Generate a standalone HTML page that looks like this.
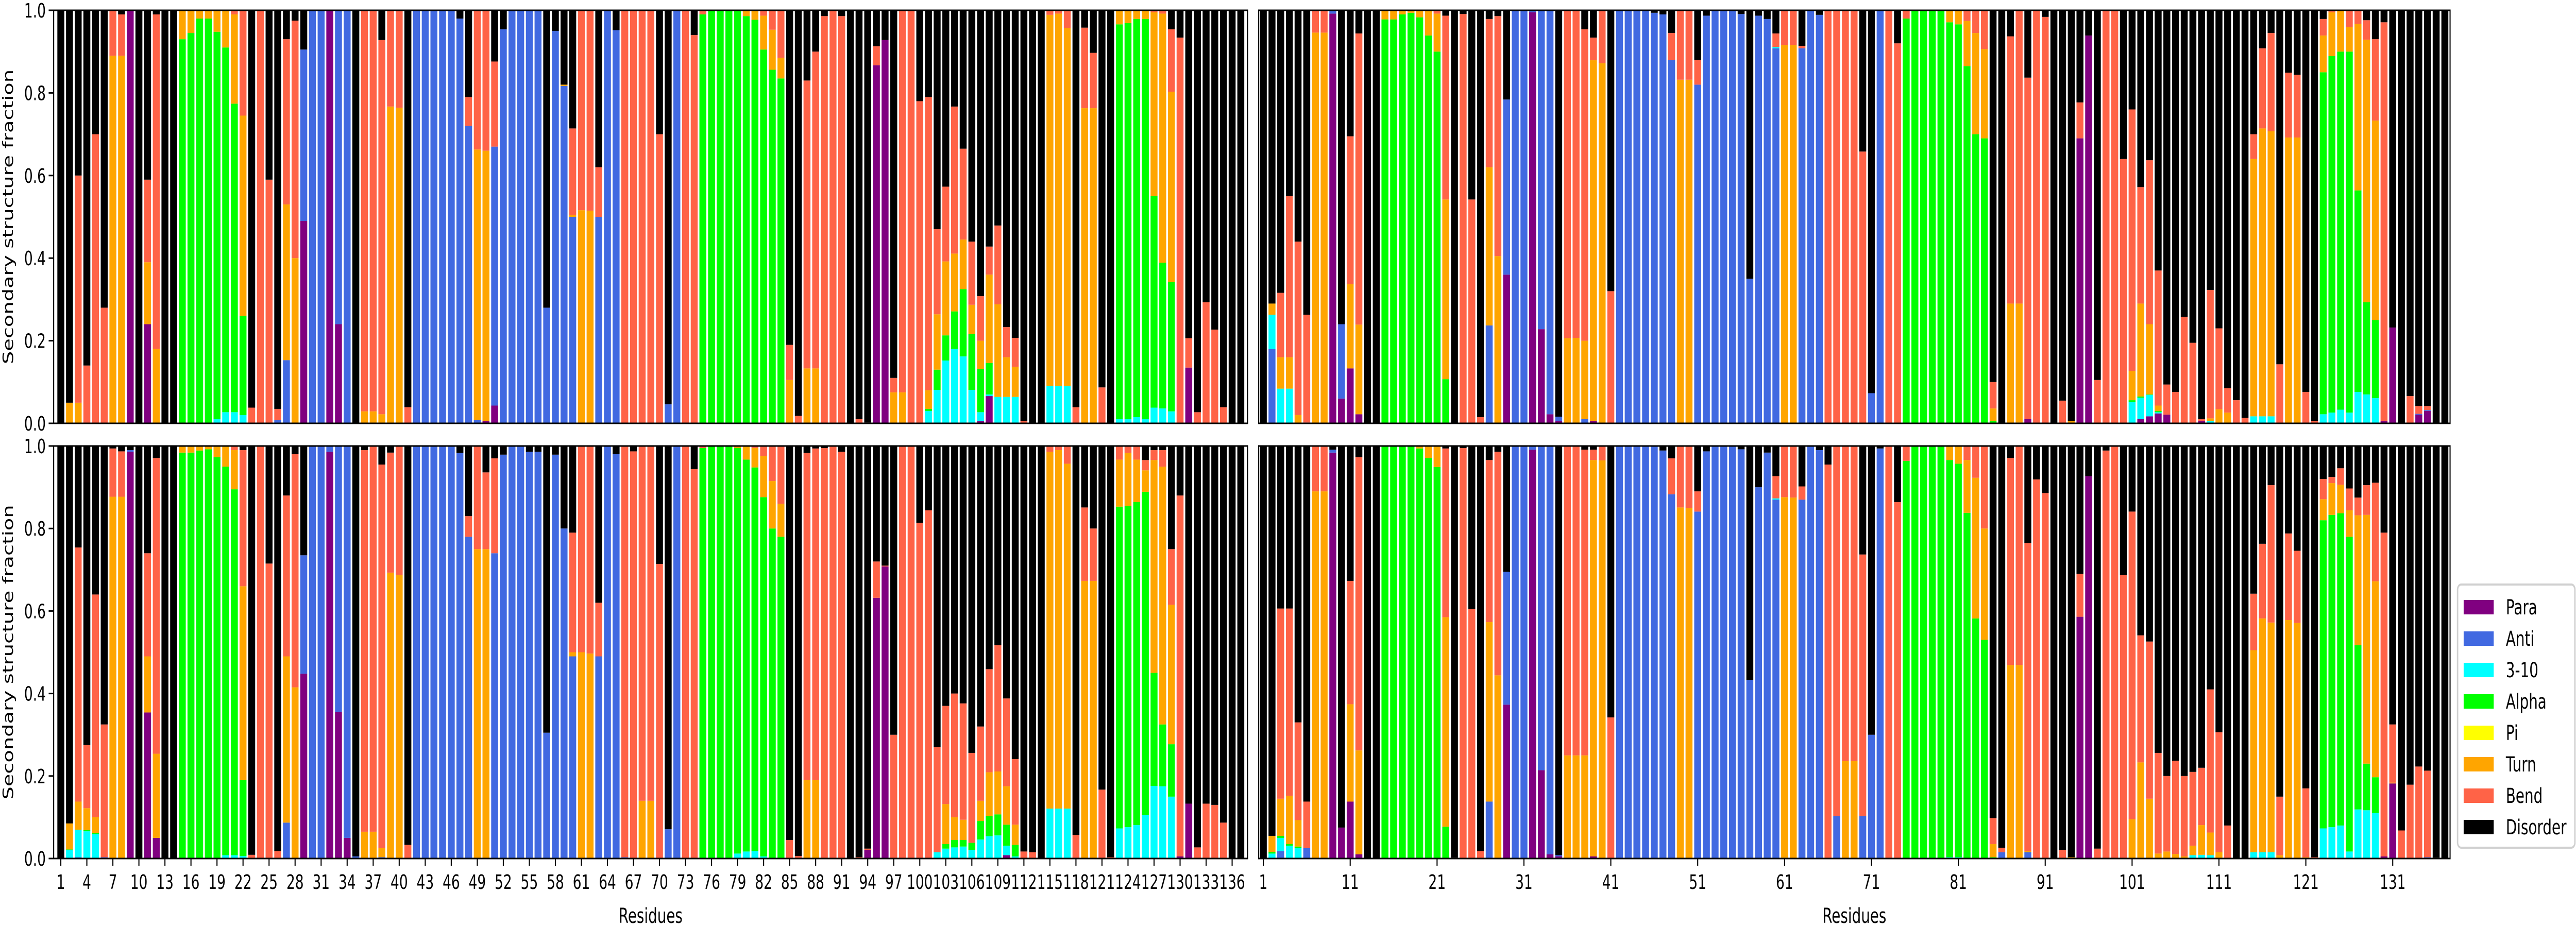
<!DOCTYPE html>
<html>
<head>
<meta charset="utf-8">
<style>
html,body{margin:0;padding:0;background:#fff;width:100%;height:100%;overflow:hidden;}
svg{display:block;width:100vw;height:100vh;}
text{font-family:"DejaVu Sans","Liberation Sans",sans-serif;}
</style>
</head>
<body>
<svg id="chart" viewBox="0 0 7200 1800" preserveAspectRatio="none" xmlns="http://www.w3.org/2000/svg">
  <g id="plots"></g>
  <g id="legend">
    <rect x="6869" y="1135" width="328" height="511" rx="10" fill="#fff" stroke="#d0d0d0" stroke-width="4"/>
  </g>
</svg>
<script>
// ---------- data ----------
const seriesNames = ["Para","Anti","3-10","Alpha","Pi","Turn","Bend","Disorder"];
const seriesColors = ["#800080","#4169e1","#00ffff","#00ff00","#ffff00","#ffa500","#ff6347","#000000"];
const leftTickLabels = [1,4,7,10,13,16,19,22,25,28,31,34,37,40,43,46,49,52,55,58,61,64,67,70,73,76,79,82,85,88,91,94,97,100,103,106,109,112,115,118,121,124,127,130,133,136];
const rightTickLabels = [1,11,21,31,41,51,61,71,81,91,101,111,121,131];
const yTickLabels = ["0.0","0.2","0.4","0.6","0.8","1.0"];
const yTickValues = [0,0.2,0.4,0.6,0.8,1.0];

const piAll = [
0,0,0,0,0,0,0,0,0,0, 0,0,0,0,0,0,0,0,0,0, 0,0,0,0,0,0,0,0,0,0, 0,0,0,0,0,0,0,0,0,0,
0,0,0,0,0,0,0,0,0,0, 0,0,0,0,0,0,0,0,0,0, 0,0,0,0,0,0,0,0,0,0, 0,0,0,0,0,0,0,0,0,0,
0,0,0,0,0,0,0,0,0,0, 0,0,0,0,0,0,0,0,0,0, 0,0,0,0,0,0,0,0,0,0, 0,0,0,0,0,0,0,0,0,0,
0,0,0,0,0,0,0,0,0,0, 0,0,0,0,0,0,0];

// ----- top-left -----
const tlPara = [
0,0,0,0,0,0,0,0,1,0, .24,0,0,0,0,0,0,0,0,0, 0,0,0,0,0,0,0,0,.49,0, 0,1,.24,0,0,0,0,0,0,0,
0,0,0,0,0,0,0,0,0,.005, .043,0,0,0,0,0,0,0,0,0, 0,0,0,0,0,0,0,0,0,0, 0,0,0,0,0,0,0,0,0,0,
0,0,0,0,0,0,0,0,0,0, 0,0,0,0,.867,.928,0,0,0,0, 0,0,0,0,0,0,.005,.066,0,0, 0,0,0,0,0,0,0,0,0,0,
0,0,0,0,0,0,0,0,0,0, .135,0,0,0,0,0,0];
const tlAnti = [
0,0,0,0,0,0,0,0,0,0, 0,0,0,0,0,0,0,0,0,0, 0,0,0,0,0,.008,.153,0,.415,1, 1,0,.76,1,0,0,0,0,0,0,
0,1,1,1,1,1,.98,.72,.008,0, .627,.954,1,1,1,.998,.28,.95,.817,.5, 0,0,.5,1,.952,0,0,0,0,0, .046,1,0,0,0,0,0,0,0,0,
0,0,0,0,0,0,0,0,0,0, 0,0,0,0,0,0,0,0,0,0, 0,0,0,0,0,0,0,0,0,0, 0,0,0,0,0,0,0,0,0,0,
0,0,0,0,0,0,0,0,0,0, 0,0,0,0,0,0,0];
const tl310 = [
0,0,0,0,0,0,0,0,0,0, 0,0,0,0,0,0,0,0,.01,.027, .027,.02,0,0,0,0,0,0,0,0, 0,0,0,0,0,0,0,0,0,0,
0,0,0,0,0,0,0,0,0,0, 0,0,0,0,0,0,0,0,0,0, 0,0,0,0,0,0,0,0,0,0, 0,0,0,0,0,0,0,0,0,0,
0,0,0,0,0,0,0,0,0,0, 0,0,0,0,0,0,0,0,0,0, .03,.081,.152,.18,.162,.081,.022,.004,.064,.064, .064,0,0,0,.091,.091,.091,0,0,0,
0,0,.01,.01,.015,.01,.038,.036,.029,0, 0,0,0,0,0,0,0];
const tlAlpha = [
0,0,0,0,0,0,0,0,0,0, 0,0,0,0,.93,.945,.98,.98,.938,.883, .747,.24,0,0,0,0,0,0,0,0, 0,0,0,0,0,0,0,0,0,0,
0,0,0,0,0,0,0,0,0,0, 0,0,0,0,0,0,0,0,0,0, 0,0,0,0,0,0,0,0,0,0, 0,0,0,0,.99,1,1,1,1,.986,
.977,.905,.856,.835,0,0,0,0,0,0, 0,0,0,0,0,0,0,0,0,0, .005,.049,.061,.091,.163,.135,.105,.076,0,0, 0,0,0,0,0,0,0,0,0,0,
0,0,.956,.959,.964,.969,.512,.353,.313,0, 0,0,0,0,0,0,0];
const tlTurn = [
0,.05,.05,0,0,0,.89,.89,0,0, .15,.18,0,0,.07,.055,.02,.02,.052,.09, .216,.485,0,0,0,0,.377,.4,0,0, 0,0,0,0,0,.029,.029,.022,.767,.764,
0,0,0,0,0,0,0,0,.655,.655, 0,0,0,0,0,0,0,0,.003,.005, .516,.515,0,0,0,0,0,0,0,0, 0,0,0,0,0,0,0,0,0,.014,
.023,.082,.097,.05,.105,0,.133,.133,0,0, 0,0,0,0,0,0,.075,.075,0,0, .045,.134,.179,.14,.12,.071,.068,.214,.224,.096, .073,0,0,0,.898,.901,.866,0,.763,.763,
0,0,.034,.031,.021,.021,.445,.603,.461,0, 0,0,0,0,0,0,0];
const tlBend = [
0,0,.55,.14,.7,.28,.11,.1,0,0, .2,.81,0,0,0,0,0,0,0,0, .01,.255,.038,1,.59,.027,.4,.575,0,0, 0,0,0,0,0,.971,.971,.906,.233,.236,
.039,0,0,0,0,0,0,.07,.337,.34, .206,0,0,0,0,0,0,0,0,.209, .484,.485,.12,0,0,1,1,1,1,.7, 0,0,1,.94,.01,0,0,0,0,0,
0,.013,.047,.115,.085,.018,.697,.767,.986,1, .986,0,.01,.002,.046,0,.035,.925,1,.78, .71,.206,.181,.356,.22,.153,.108,.068,.191,.073, .07,.005,0,0,.011,.008,.043,.039,.195,.134,
.087,0,0,0,0,0,.005,.008,.151,.934, .071,.027,.293,.227,.039,0,0];

// ----- bottom-left -----
const blPara = [
0,0,0,0,0,0,0,0,.986,0, .354,.05,0,0,0,0,0,0,0,0, 0,0,0,0,0,0,0,0,.448,0, 0,.986,.355,.05,0,0,0,0,0,0,
0,0,0,0,0,0,0,0,0,0, 0,0,0,0,0,0,0,0,0,0, 0,0,0,0,0,0,0,0,0,0, 0,0,0,0,0,0,0,0,0,0,
0,0,0,0,0,0,0,0,0,0, 0,0,0,.021,.632,.708,0,0,0,0, 0,0,0,0,0,0,0,0,0,.008, 0,0,0,0,0,0,0,0,0,0,
0,0,0,0,0,0,0,0,0,.005, .133,0,0,0,0,0,0];
const blAnti = [
0,0,.003,0,0,.003,0,0,.004,0, 0,0,0,0,0,0,0,0,0,0, 0,0,0,0,0,0,.087,0,.287,1, 1,.014,.645,.95,.005,0,0,.003,0,0,
0,1,1,1,1,1,.983,.78,0,0, .74,.979,1,1,.986,.986,.305,.979,.8,.49, 0,0,.49,1,.98,.003,0,0,0,0, .071,1,0,0,0,0,0,0,0,0,
0,0,0,0,0,0,0,0,0,0, 0,0,0,0,0,0,0,0,0,0, 0,0,0,0,0,0,0,0,0,0, 0,0,0,0,0,0,0,0,0,0,
0,0,0,0,0,0,0,0,0,0, 0,0,0,0,0,0,0];
const bl310 = [
0,.02,.066,.066,.059,0,0,0,0,0, 0,0,0,0,0,0,0,0,0,.008, .008,.006,0,0,0,0,0,0,0,0, 0,0,0,0,0,0,0,0,0,0,
0,0,0,0,0,0,0,0,0,0, 0,0,0,0,0,0,0,0,0,0, 0,0,0,0,0,0,0,0,0,0, 0,0,0,0,0,0,0,0,.012,.017,
.018,.005,0,0,0,0,0,0,0,0, 0,0,0,0,0,0,0,0,0,0, 0,.015,.024,.027,.029,.021,.046,.054,.056,.023, .005,0,0,0,.121,.121,.121,0,0,0,
0,0,.073,.076,.081,.105,.176,.175,.15,0, 0,0,0,0,0,0,0];
const blAlpha = [
0,.002,.001,.003,.003,0,0,0,0,0, 0,0,0,0,.984,.984,.989,.992,.973,.942, .887,.184,0,0,0,0,0,0,0,0, 0,0,0,0,0,0,0,0,0,0,
0,0,0,0,0,0,0,0,0,0, 0,0,0,0,0,0,0,0,0,0, 0,0,0,0,0,0,0,0,0,0, 0,0,0,0,.995,1,1,1,.983,.95,
.93,.871,.8,.78,0,0,0,0,0,0, 0,0,0,0,0,0,0,0,0,0, 0,0,.011,.018,.016,.017,.045,.049,.051,.051, .028,0,0,0,0,0,0,0,0,0,
0,0,.78,.779,.783,.784,.274,.15,.127,0, 0,0,0,0,0,0,0];
const blTurn = [
0,.063,.068,.053,.038,0,.877,.877,0,0, .136,.204,0,0,.016,.016,.011,.008,.027,.05, .095,.47,0,0,0,0,.403,.415,0,0, 0,0,0,0,0,.065,.065,.022,.693,.687,
0,0,0,0,0,0,0,0,.75,.75, 0,0,0,0,0,0,0,0,0,.01, .5,.497,0,0,0,0,0,.14,.14,0, 0,0,0,0,0,0,0,0,.005,.033,
.047,.1,.115,.08,0,0,.19,.19,0,0, 0,0,0,0,0,0,0,0,0,0, 0,0,.097,.055,.049,0,.049,.106,.104,.093, .049,0,0,0,.865,.869,.836,0,.673,.673,
0,0,.114,.128,.103,.052,.516,.625,.338,0, 0,0,0,0,0,0,0];
const blBend = [
0,0,.616,.153,.54,.322,.117,.11,0,0, .25,.717,0,0,0,0,0,0,0,0, .01,.33,.009,1,.715,.018,.39,.565,0,0, 0,0,0,0,0,.925,.935,.93,.291,.313,
.033,0,0,0,0,0,0,.05,.25,.186, .23,0,0,0,0,0,0,0,0,.29, .5,.503,.13,0,0,.997,.987,.86,.86,.714, 0,0,1,.944,.005,0,0,0,0,0,
.005,.024,.085,.14,.045,.006,.793,.804,.995,1, .986,0,.003,.003,.088,.002,.3,1,1,.814, .844,.255,.238,.3,.282,.218,.18,.25,.306,.213, .159,.017,.015,0,.014,.01,.043,.057,.178,.127,
.167,.003,.033,.017,.033,.025,.024,.04,.135,.875, 0,.027,.133,.13,.087,0,0];

// ----- top-right -----
const trPara = [
0,0,0,0,0,0,0,0,.992,.06, .133,.022,0,0,0,0,0,0,0,0, 0,0,0,0,0,0,0,0,.36,0, 0,.995,.228,.022,.005,0,0,0,.005,0,
0,0,0,0,0,0,0,0,0,0, 0,0,0,0,0,0,0,0,0,0, 0,0,0,0,0,0,0,0,0,0, 0,0,0,0,0,0,0,0,0,0,
0,0,0,0,0,0,0,0,.01,0, 0,0,0,0,.69,.939,0,0,0,0, 0,.01,.017,.024,.021,0,0,0,.005,0, 0,0,0,0,0,0,0,0,0,0,
0,0,0,0,0,0,0,0,0,.005, .232,0,0,.021,.03,0,0];
const trAnti = [
0,.18,0,0,0,.002,0,0,.008,.18, 0,0,0,0,0,0,0,0,0,0, 0,0,0,0,0,0,.237,0,.424,1, 1,.005,.772,.978,.011,0,0,.01,0,0,
0,1,1,1,1,.994,.99,.88,0,0, .82,.987,1,1,1,.991,.35,.987,.979,.908, 0,0,.908,1,.989,0,0,0,0,0, .073,1,0,0,0,0,0,0,0,0,
0,0,0,0,0,0,0,.002,0,0, 0,0,0,0,0,0,0,0,0,0, 0,0,0,0,0,0,0,0,0,0, 0,0,0,0,0,0,0,0,0,0,
0,0,0,0,0,0,0,0,0,0, 0,0,0,.002,.002,0,0];
const tr310 = [
0,.083,.084,.084,0,0,0,0,0,0, 0,0,0,0,0,0,0,0,0,0, 0,0,0,0,0,0,0,0,0,0, 0,0,0,0,0,0,0,0,0,0,
0,0,0,0,0,0,0,0,0,0, 0,0,0,0,0,0,0,0,0,.003, 0,0,0,0,0,0,0,0,0,0, 0,0,0,0,0,0,0,0,0,0,
0,0,0,0,0,0,0,0,0,0, 0,0,0,0,0,0,0,0,0,0, .052,.052,.052,.003,0,0,0,0,0,.005, 0,0,0,0,.017,.017,.017,0,0,0,
0,0,.022,.026,.033,.026,.076,.07,.061,0, 0,0,0,0,0,0,0];
const trAlpha = [
0,0,0,0,0,0,0,0,0,0, 0,0,0,0,.978,.978,.99,.994,.983,.939, .9,.107,0,0,0,0,0,0,0,0, 0,0,0,0,0,0,0,0,0,0,
0,0,0,0,0,0,0,0,0,0, 0,0,0,0,0,0,0,0,0,0, 0,0,0,0,0,0,0,0,0,0, 0,0,0,0,.98,1,1,1,1,.971,
.966,.865,.7,.69,.006,0,0,0,0,0, 0,0,0,0,0,0,0,0,0,0, .004,.003,.001,.003,0,0,0,0,0,0, 0,0,0,0,0,0,0,0,0,0,
0,0,.828,.863,.867,.874,.488,.223,.189,0, 0,0,0,0,0,0,0];
const trTurn = [
0,.027,.076,.076,.02,0,.946,.946,0,0, .204,.217,0,0,.022,.022,.01,.006,.017,.061, .092,.435,0,0,0,0,.383,.405,0,0, 0,0,0,0,0,.206,.207,.19,.874,.872,
0,0,0,0,0,0,0,0,.832,.832, 0,0,0,0,0,0,0,0,0,0, .916,.916,0,0,0,0,0,0,0,0, 0,0,0,0,0,0,0,0,0,.029,
.034,.109,.245,.216,.03,0,.29,.288,0,0, 0,0,0,.005,0,0,0,0,0,0, .071,.225,.17,.013,0,0,0,0,0,.007, .034,.026,0,0,.623,.697,.69,0,.692,.692,
0,0,.089,.106,.1,.06,.403,.636,.483,0, 0,0,0,0,0,0,0];
const trBend = [
0,0,.156,.39,.42,.261,.054,.054,0,0, .358,.705,0,0,0,0,0,0,0,0, .008,.445,0,.991,.542,.015,.359,.581,0,0, 0,0,0,0,0,.794,.793,.754,.055,.128,
.32,0,0,0,0,0,0,.065,.168,.168, .06,0,0,0,0,0,0,0,0,.033, .084,.084,.006,0,0,1,1,1,1,.658, 0,0,1,.92,.02,0,0,0,0,0,
0,.026,.055,.094,.064,0,.647,.71,.827,1, .984,0,.055,0,.087,0,.105,1,1,.64, .633,.282,.397,.327,.073,.076,.258,.195,.005,.311, .196,.059,.056,.013,.06,.194,.238,.143,.157,.152,
.076,.006,.04,.005,0,.04,.033,.047,.197,.966, 0,0,.066,.019,.01,0,0];

// ----- bottom-right -----
const brPara = [
0,0,0,0,0,0,0,0,.984,.075, .138,.01,0,0,0,0,0,0,0,0, 0,0,0,0,0,0,0,0,.373,0, 0,.991,.214,.01,.005,0,0,0,.005,0,
0,0,0,0,0,0,0,0,0,0, 0,0,0,0,0,0,0,0,0,0, 0,0,0,0,0,0,0,0,0,0, 0,0,0,0,0,0,0,0,0,0,
0,0,0,0,0,0,0,0,0,0, 0,0,0,0,.586,.927,0,0,0,0, 0,0,0,0,0,0,0,0,0,0, 0,0,0,0,0,0,0,0,0,0,
0,0,0,0,0,0,0,0,0,.005, .182,0,0,0,0,0,0];
const brAnti = [
0,0,.018,0,0,.025,0,0,.007,0, 0,0,0,0,0,0,0,0,0,0, 0,0,0,0,0,0,.138,0,.322,1, 1,.009,.786,.99,.003,0,0,0,0,0,
0,1,1,1,1,1,.989,.883,0,0, .841,.987,1,1,1,.992,.433,.9,.984,.87, 0,0,.87,1,.99,0,.103,0,0,.103, .3,.994,0,0,0,0,0,0,0,0,
0,0,0,0,0,.015,0,0,.015,0, 0,0,0,0,0,0,0,0,0,0, 0,0,0,0,0,0,0,0,0,0, 0,0,0,0,0,0,0,0,0,0,
0,0,0,0,0,0,0,0,0,0, 0,0,0,0,.003,0,0];
const br310 = [
0,.012,.032,.031,.025,0,0,0,0,0, 0,0,0,0,0,0,0,0,0,0, 0,0,0,0,0,0,0,0,0,0, 0,0,0,0,0,0,0,0,0,0,
0,0,0,0,0,0,0,0,0,0, 0,0,0,0,0,0,0,0,0,.003, .002,0,0,0,0,0,0,0,0,0, 0,0,0,0,0,0,0,0,0,.003,
.003,0,0,0,0,0,0,0,0,0, 0,0,0,0,0,0,0,0,0,0, 0,.002,0,0,0,0,0,.008,.009,.008, 0,0,0,0,.015,.015,.015,0,0,0,
0,0,.073,.076,.08,.017,.119,.117,.11,0, 0,0,0,0,0,0,0];
const brAlpha = [
0,.004,.005,.004,.004,0,0,0,0,0, 0,0,0,0,1,1,1,1,.994,.971, .949,.077,0,0,0,0,0,0,0,0, 0,0,0,0,0,0,0,0,0,0,
0,0,0,0,0,0,0,0,0,0, 0,0,0,0,0,0,0,0,0,0, 0,0,0,0,0,0,0,0,0,0, 0,0,0,0,.964,1,1,1,1,.963,
.954,.838,.582,.53,.003,0,0,0,0,0, 0,0,0,0,0,0,0,0,0,0, 0,0,0,0,0,0,0,0,0,0, 0,0,0,0,0,0,0,0,0,0,
0,0,.747,.757,.757,.763,.398,.113,.087,0, 0,0,0,0,0,0,0];
const brTurn = [
0,.039,.09,.117,.064,0,.89,.89,0,0, .236,.252,0,0,0,0,0,0,.006,.029, .051,.508,0,0,0,0,.435,.444,0,0, 0,0,0,0,0,.25,.25,.25,.961,.965,
0,0,0,0,0,0,0,0,.851,.85, 0,0,0,0,0,0,0,0,0,0, .874,.875,0,0,0,0,0,.236,.236,0, 0,0,0,0,0,0,0,0,0,.034,
.043,.128,.341,.27,.032,0,.469,.469,.003,0, 0,0,0,.003,0,0,0,0,0,0, .095,.231,.145,.012,.017,.011,.005,.023,.072,.055, .015,0,0,0,.49,.567,.557,.008,.578,.571,
.003,0,.051,.077,.069,.064,.315,.603,.475,0, .002,0,0,0,0,.002,0];
const brBend = [
0,0,.461,.454,.237,.113,.11,.11,0,0, .299,.711,0,0,0,0,0,0,0,0, 0,.409,.002,.995,.605,.018,.393,.542,0,0, 0,0,0,0,0,.75,.75,.741,.025,.035,
.342,0,0,0,0,0,0,.087,.149,.15, .049,0,0,0,0,0,0,0,0,.054, .124,.125,.032,0,0,.955,.897,.764,.764,.634, 0,0,1,.864,.036,0,0,0,0,0,
0,.034,.077,.2,.063,.011,.502,.531,.747,.919, .886,0,.021,0,.104,0,.024,.989,1,.687, .746,.308,.381,.244,.183,.226,.195,.179,.139,.347, .291,.08,0,0,.137,.181,.333,.142,.21,.175,
.167,.003,.049,.015,.04,.053,.043,.072,.239,.785, .141,.068,.179,.223,.21,0,0];

// ---------- layout (not data) ----------
const NS = "http://www.w3.org/2000/svg";
const panels = [
  {key:"top-left", series:[tlPara,tlAnti,tl310,tlAlpha,piAll,tlTurn,tlBend], x0:150,x1:3487,y0:20,y1:822, lo:0.175,hi:137.78, yticks:true, xticks:null},
  {key:"top-right", series:[trPara,trAnti,tr310,trAlpha,piAll,trTurn,trBend], x0:3518,x1:6848,y0:20,y1:822, lo:0.465,hi:137.6, yticks:false, xticks:null},
  {key:"bottom-left", series:[blPara,blAnti,bl310,blAlpha,piAll,blTurn,blBend], x0:150,x1:3487,y0:866,y1:1667, lo:0.175,hi:137.78, yticks:true, xticks:leftTickLabels},
  {key:"bottom-right", series:[brPara,brAnti,br310,brAlpha,piAll,brTurn,brBend], x0:3518,x1:6848,y0:866,y1:1667, lo:0.465,hi:137.6, yticks:false, xticks:rightTickLabels}
];

function mk(tag, attrs){
  const el = document.createElementNS(NS, tag);
  for (const k in attrs) el.setAttribute(k, attrs[k]);
  return el;
}

const root = document.getElementById("plots");
panels.forEach(p => {
  const g = mk("g", {});
  
  
  root.appendChild(g);
  const xs = v => p.x0 + (v - p.lo) / (p.hi - p.lo) * (p.x1 - p.x0);
  const ys = v => p.y1 - v * (p.y1 - p.y0);
  const unit = (p.x1 - p.x0) / (p.hi - p.lo);
  const bw = unit * 0.8;
  const n = p.series[0].length;
  for (let i = 0; i < n; i++) {
    const cx = xs(i + 1);
    let acc = 0;
    const vals = p.series.map(s => s[i]);
    let sum = 0; vals.forEach(v => sum += v);
    vals.push(Math.max(0, 1 - sum));
    for (let s = 0; s < vals.length; s++) {
      const v = vals[s];
      if (v <= 0) continue;
      const r = mk("rect", {x:(cx - bw/2).toFixed(2), y:ys(acc + v).toFixed(2), width:bw.toFixed(2), height:(ys(acc) - ys(acc + v)).toFixed(2), fill:seriesColors[s]});
      
      
      g.appendChild(r);
      acc += v;
    }
  }
  const fr = mk("rect", {x:p.x0, y:p.y0, width:p.x1 - p.x0, height:p.y1 - p.y0, fill:"none", stroke:"#000", "stroke-width":3});
  
  
  g.appendChild(fr);
  if (p.yticks) {
    yTickValues.forEach((v, k) => {
      const t = mk("line", {x1:p.x0 - 14, x2:p.x0, y1:ys(v), y2:ys(v), stroke:"#000", "stroke-width":3});
      
      
      g.appendChild(t);
      const lb = mk("text", {x:p.x0 - 22, y:ys(v) + 14, "text-anchor":"end", "font-size":38, fill:"#000"});
      lb.textContent = yTickLabels[k];
      
      
      g.appendChild(lb);
    });
    const cy = (p.y0 + p.y1) / 2;
    const yl = mk("text", {x:36, y:cy, "text-anchor":"middle", "font-size":40, fill:"#000", transform:"rotate(-90 36 " + cy + ")"});
    yl.textContent = "Secondary structure fraction";
    
    
    g.appendChild(yl);
  }
  if (p.xticks) {
    p.xticks.forEach(v => {
      const t = mk("line", {x1:xs(v), x2:xs(v), y1:p.y1, y2:p.y1 + 14, stroke:"#000", "stroke-width":3});
      
      
      g.appendChild(t);
      const lb = mk("text", {x:xs(v), y:p.y1 + 59, "text-anchor":"middle", "font-size":38, fill:"#000"});
      lb.textContent = String(v);
      
      
      g.appendChild(lb);
    });
    const xl = mk("text", {x:(p.x0 + p.x1) / 2, y:1792, "text-anchor":"middle", "font-size":40, fill:"#000"});
    xl.textContent = "Residues";
    
    
    g.appendChild(xl);
  }
});

const lg = document.getElementById("legend");
seriesNames.forEach((name, k) => {
  const cy = 1179 + k * 61;
  const sw = mk("rect", {x:6886, y:cy - 14, width:84, height:28, fill:seriesColors[k]});
  
  
  lg.appendChild(sw);
  const tx = mk("text", {x:7004, y:cy + 14, "font-size":40, fill:"#000"});
  tx.textContent = name;
  
  
  lg.appendChild(tx);
});
</script>
</body>
</html>
